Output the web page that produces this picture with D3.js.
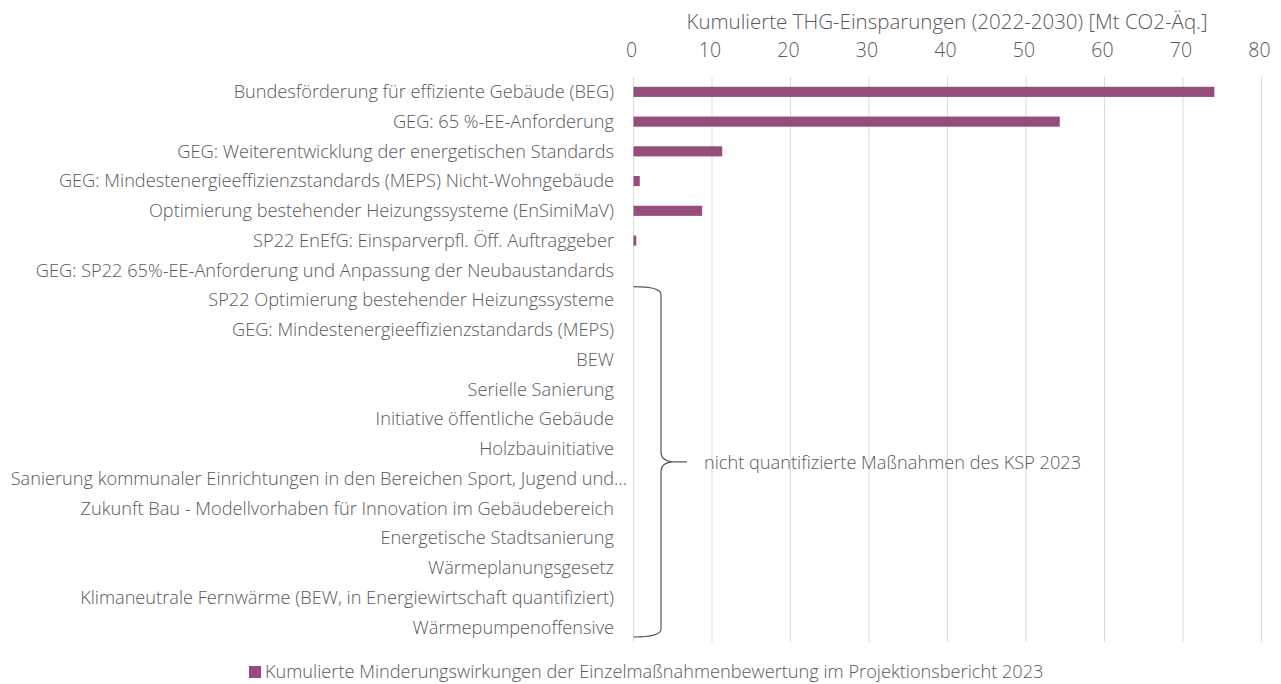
<!DOCTYPE html>
<html><head><meta charset="utf-8">
<script src="https://cdn.jsdelivr.net/npm/d3@7"></script>
<style>
body{margin:0;background:#fff;}
text{font-family:"Open Sans",sans-serif;font-weight:300;fill:#595959;}
</style></head>
<body><svg id="c" width="1281" height="684"></svg>
<script>
const categories = [
 "Bundesförderung für effiziente Gebäude (BEG)",
 "GEG: 65 %-EE-Anforderung",
 "GEG: Weiterentwicklung der energetischen Standards",
 "GEG: Mindestenergieeffizienzstandards (MEPS) Nicht-Wohngebäude",
 "Optimierung bestehender Heizungssysteme (EnSimiMaV)",
 "SP22 EnEfG: Einsparverpfl. Öff. Auftraggeber",
 "GEG: SP22 65%-EE-Anforderung und Anpassung der Neubaustandards",
 "SP22 Optimierung bestehender Heizungssysteme",
 "GEG: Mindestenergieeffizienzstandards (MEPS)",
 "BEW",
 "Serielle Sanierung",
 "Initiative öffentliche Gebäude",
 "Holzbauinitiative",
 "Sanierung kommunaler Einrichtungen in den Bereichen Sport, Jugend und…",
 "Zukunft Bau - Modellvorhaben für Innovation im Gebäudebereich",
 "Energetische Stadtsanierung",
 "Wärmeplanungsgesetz",
 "Klimaneutrale Fernwärme (BEW, in Energiewirtschaft quantifiziert)",
 "Wärmepumpenoffensive"
];
const values = [74.0, 54.3, 11.3, 0.8, 8.75, 0.35, null, null, null, null, null, null, null, null, null, null, null, null, null];
const xTicks = [0,10,20,30,40,50,60,70,80];
const axisTitle = "Kumulierte THG-Einsparungen (2022-2030) [Mt CO2-Äq.]";
const legendLabel = "Kumulierte Minderungswirkungen der Einzelmaßnahmenbewertung im Projektionsbericht 2023";
const bracketLabel = "nicht quantifizierte Maßnahmen des KSP 2023";
const bracketFrom = 7;

(function(){
const svg = d3.select("#c");
const color = "#974c7e";
const x = d3.scaleLinear().domain([0,80]).range([633.5,1261.5]);
const y = d3.scaleBand().domain(categories).range([77,642]).paddingInner(0.66).paddingOuter(0.33);
const band = d3.scaleBand().domain(categories).range([77,642]);

svg.append("g").selectAll("line").data(xTicks).join("line")
 .attr("x1",d=>x(d)).attr("x2",d=>x(d)).attr("y1",77).attr("y2",642)
 .attr("stroke","#d9d9d9").attr("stroke-width",1);

svg.append("g").selectAll("text").data(xTicks).join("text")
 .attr("x",d=>x(d)-2).attr("y",57).attr("text-anchor","middle")
 .style("font-size","19.5px").text(d=>d);

svg.append("text").attr("x",947).attr("y",29).attr("text-anchor","middle")
 .style("font-size","20.5px").text(axisTitle);

svg.append("g").selectAll("rect").data(categories.map((c,i)=>({c,v:values[i]})).filter(d=>d.v!=null)).join("rect")
 .attr("x",x(0)).attr("y",d=>y(d.c)).attr("width",d=>x(d.v)-x(0)).attr("height",y.bandwidth())
 .attr("fill",color);

svg.append("g").selectAll("text").data(categories).join("text")
 .attr("x",d=>d.endsWith("…") ? 627 : 614).attr("y",d=>band(d)+band.bandwidth()/2).attr("dy","0.35em")
 .attr("text-anchor","end").style("font-size","18.2px").text(d=>d)
 .each(function(){
   const bb=this.getBBox();
   if(bb.x<8){ const w=bb.width; d3.select(this).attr("textLength",null).style("font-size",(18.2*(619/w)).toFixed(2)+"px"); }
 });

const bTop = band(categories[bracketFrom])+1.5;
const bBot = 642-5;
const mid = (bTop+bBot)/2;
const x0 = x(0), xv = 661, xt = 687;
const p = `M${x0},${bTop} Q${xv},${bTop} ${xv},${bTop+8} L${xv},${mid-10} Q${xv},${mid-1} ${xv+11},${mid} L${xt},${mid} M${xv+11},${mid} Q${xv},${mid+1} ${xv},${mid+10} L${xv},${bBot-8} Q${xv},${bBot} ${x0},${bBot}`;
svg.append("path").attr("d",p).attr("fill","none").attr("stroke","#595959").attr("stroke-width",1.2);
svg.append("text").attr("x",704).attr("y",mid+1).attr("dy","0.35em").style("font-size","18.2px").text(bracketLabel);

svg.append("rect").attr("x",249).attr("y",666).attr("width",12).attr("height",12).attr("fill",color);
svg.append("text").attr("x",265).attr("y",672).attr("dy","0.35em").style("font-size","18.2px").text(legendLabel);
})();
</script></body></html>
